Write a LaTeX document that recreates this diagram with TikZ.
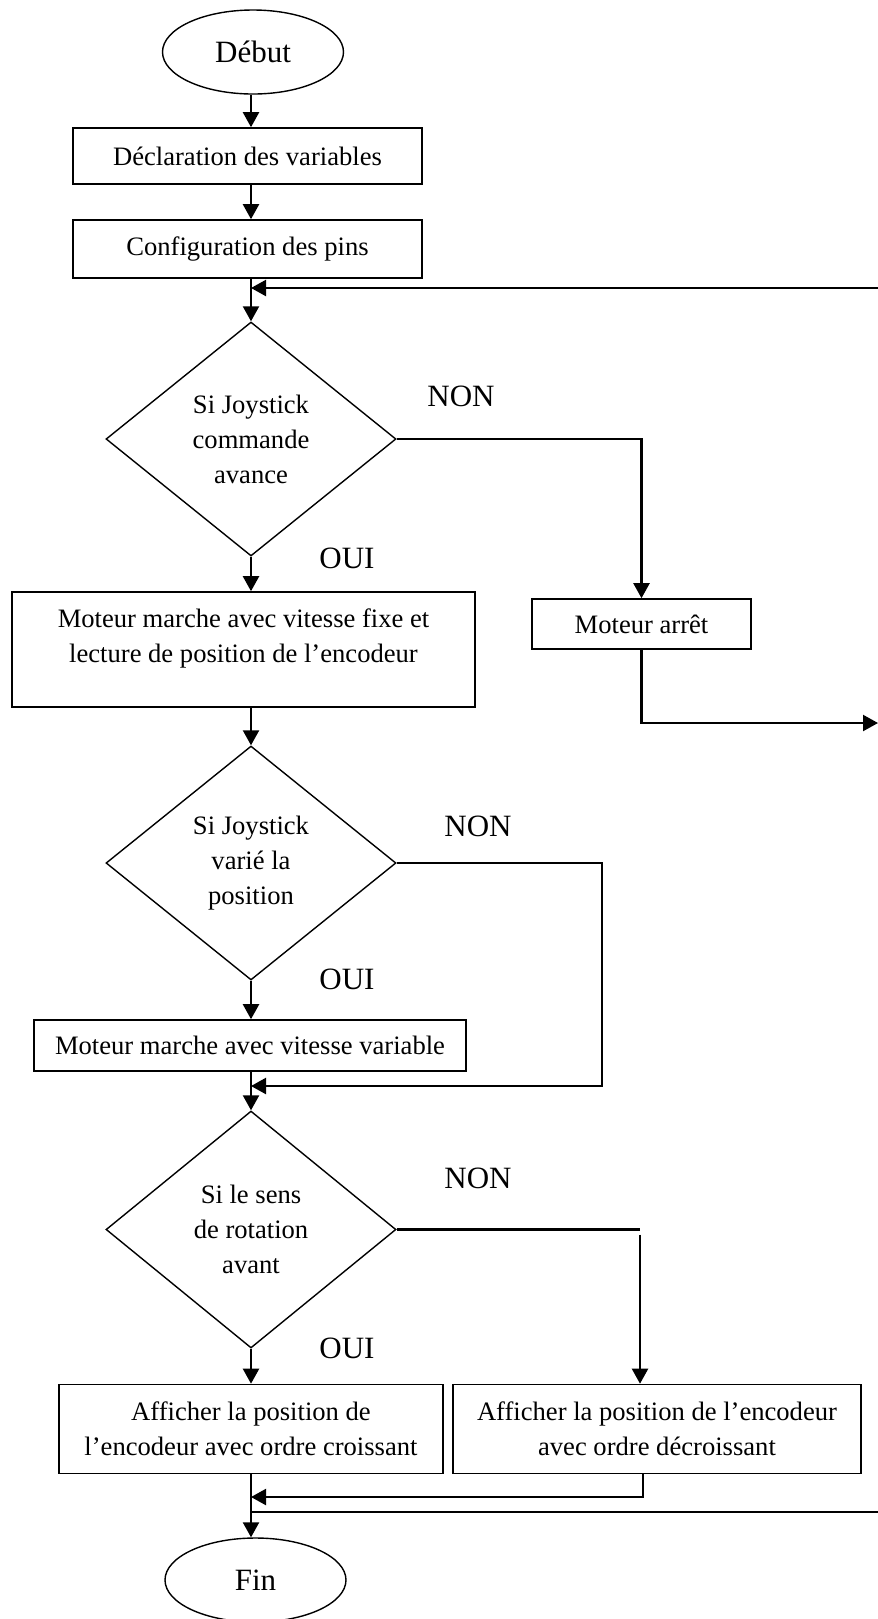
\documentclass[tikz,border=0pt]{standalone}
\usepackage{fontspec}
\setmainfont{Liberation Serif}
\usetikzlibrary{shapes.geometric, arrows.meta, positioning, calc}

\begin{document}
\begin{tikzpicture}[x=0.5pt, y=-0.5pt,
    every node/.style={font=\fontsize{13.3}{17.5}\selectfont, align=center},
    box/.style={draw, line width=0.8pt, rectangle, inner sep=0pt},
    decision/.style={draw, line width=0.7pt, diamond, aspect=1.24, inner sep=0pt,
        minimum width=145pt, minimum height=117pt},
    terminal/.style={draw, line width=0.7pt, ellipse, minimum width=90.5pt,
        minimum height=42pt, font=\fontsize{15.5}{18}\selectfont},
    lab/.style={font=\fontsize{15.5}{18}\selectfont},
    flow/.style={line width=1.1pt, -{Triangle[length=7.5pt, width=8pt]}},
    link/.style={line width=1.1pt}
]
    \useasboundingbox (0,0) rectangle (878,1619);

    % axe principal
    \coordinate (axe) at (251,0);

    \node[terminal] (deb) at (253,52) {Début};
    \node[box, minimum width=174.5pt, minimum height=28pt] (decl) at (247.5,156) {Déclaration des variables};
    \node[box, minimum width=174.5pt, minimum height=29pt] (conf) at (247.5,249) {Configuration des pins};
    \node[decision] (si1) at (251,439) {Si Joystick\\commande\\avance};
    \node[box, minimum width=231.5pt, minimum height=57.5pt, text depth=13.5pt] (fixe) at (243.5,649.5)
        {Moteur marche avec vitesse fixe et\\lecture de position de l’encodeur};
    \node[box, minimum width=109.5pt, minimum height=25pt] (arret) at (641.5,624) {Moteur arrêt};
    \node[decision] (si2) at (251,863) {Si Joystick\\varié la\\position};
    \node[box, minimum width=216pt, minimum height=25.5pt] (varia) at (250,1045.5) {Moteur marche avec vitesse variable};
    \node[decision, minimum height=118.5pt] (si3) at (251,1229.5) {Si le sens\\de rotation\\avant};
    \node[box, minimum width=192pt, minimum height=44.5pt] (crois) at (251,1429)
        {Afficher la position de\\l’encodeur avec ordre croissant};
    \node[box, minimum width=204pt, minimum height=44.5pt] (decrois) at (657,1429)
        {Afficher la position de l’encodeur\\avec ordre décroissant};
    \node[terminal] (fin) at (255.5,1580) {Fin};

    % NON / OUI
    \node[lab] (non1) at (461,396) {NON};
    \node[lab] (oui1) at (347,558) {OUI};
    \node[lab] (non2) at (478,826) {NON};
    \node[lab] (oui2) at (347,979) {OUI};
    \node[lab] (non3) at (478,1178) {NON};
    \node[lab] (oui3) at (347,1348) {OUI};

    % points de renvoi
    \coordinate (retour) at (878,288);
    \coordinate (sortie) at (878,723);
    \coordinate (c2) at (602,1086);
    \coordinate (c3) at (640,1229.5);
    \coordinate (c4) at (643,1497);
    \coordinate (boucle) at (878,1512);

    \draw[flow] (deb.south -| axe) -- (decl.north -| axe);
    \draw[flow] (decl.south -| axe) -- (conf.north -| axe);
    \draw[flow] (conf.south -| axe) -- (si1.north);
    \draw[flow] (retour) -- (retour -| axe);
    \draw[flow] (si1.south) -- (fixe.north -| axe);
    \draw[flow] (si1.east) -| (arret.north);
    \draw[flow] (arret.south) |- (sortie);
    \draw[flow] (fixe.south -| axe) -- (si2.north);
    \draw[flow] (si2.south) -- (varia.north -| axe);
    \draw[flow] (si2.east) -| (c2) -- (c2 -| axe);
    \draw[flow] (varia.south -| axe) -- (si3.north);
    \draw[flow] (si3.south) -- (crois.north -| axe);
    \draw[link] (si3.east) -- (c3);
    \draw[flow] ([yshift=-2.5pt]c3) -- (c3 |- decrois.north);
    \draw[flow] (decrois.south -| c4) |- (c4 -| axe);
    \draw[flow] (crois.south -| axe) -- (fin.north -| axe);
    \draw[link, line width=0.7pt] (boucle -| axe) -- (boucle);
\end{tikzpicture}
\end{document}
